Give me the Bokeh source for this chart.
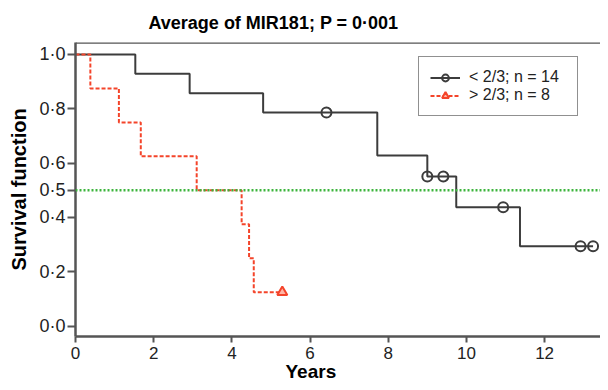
from bokeh.plotting import figure
from bokeh.models import (Range1d, FixedTicker, CustomJSTickFormatter, Span,
                          Legend, LegendItem, ColumnDataSource, Title)
from bokeh.embed import file_html
from bokeh.resources import INLINE

# ---------------- data ----------------
title_text = "Average of MIR181; P = 0·001"
x_label = "Years"
y_label = "Survival function"
x_ticks = [0, 2, 4, 6, 8, 10, 12]
y_ticks = [0.0, 0.2, 0.4, 0.5, 0.6, 0.8, 1.0]

low_label = "< 2/3; n = 14"
low_times = [0.0, 1.53, 2.92, 4.80, 7.72, 9.00, 9.74, 11.37, 13.24]
low_surv = [1.0, 0.929, 0.857, 0.786, 0.628, 0.551, 0.438, 0.294, 0.294]
low_cens_times = [6.42, 9.00, 9.41, 10.94, 12.92, 13.24]
low_cens_surv = [0.786, 0.551, 0.551, 0.438, 0.294, 0.294]

high_label = "> 2/3; n = 8"
high_times = [0.0, 0.38, 1.11, 1.67, 3.10, 4.25, 4.44, 4.56, 5.29]
high_surv = [1.0, 0.875, 0.75, 0.625, 0.5, 0.375, 0.25, 0.125, 0.125]
high_cens_times = [5.29]
high_cens_surv = [0.125]

median_level = 0.5

# ---------------- styles ----------------
FONT = "Liberation Sans"
AX_COL = "#555555"
BLACK = "#3c3c3c"
RED = "#f4442a"
GREEN = "#3cb43c"
Y_TOP = 1.044
Y_BOT = -0.038

p = figure(width=600, height=382, output_backend="svg", toolbar_location=None,
           x_range=Range1d(0, 13.43), y_range=Range1d(Y_BOT, Y_TOP),
           min_border_left=75, min_border_right=0, min_border_top=42,
           min_border_bottom=46)

p.title.text = title_text
p.title.text_font = FONT
p.title.text_font_size = "18px"
p.title.text_font_style = "bold"
p.title.text_color = "black"
p.title.align = "left"
p.title.offset = 73
p.title.standoff = 20

p.outline_line_color = None
p.grid.visible = False

# axes
for ax in (p.xaxis[0], p.yaxis[0]):
    ax.axis_line_color = AX_COL
    ax.axis_line_width = 2.5
    ax.major_tick_line_color = AX_COL
    ax.major_tick_line_width = 2
    ax.major_tick_in = 0
    ax.minor_tick_line_color = None
    ax.major_label_text_font = FONT
    ax.major_label_text_color = "#222222"
    ax.axis_label_text_font = FONT
    ax.axis_label_text_font_size = "20px"
    ax.axis_label_text_font_style = "bold"
    ax.axis_label_text_color = "black"

p.xaxis[0].ticker = FixedTicker(ticks=x_ticks)
p.xaxis[0].major_label_text_font_size = "17px"
p.xaxis[0].major_tick_out = 6
p.xaxis[0].major_label_standoff = 4

p.yaxis[0].ticker = FixedTicker(ticks=y_ticks)
p.yaxis[0].formatter = CustomJSTickFormatter(
    code="return tick.toFixed(1).replace('.', '\u00b7')")
p.yaxis[0].major_label_text_font_size = "18px"
p.yaxis[0].major_tick_out = 8
p.yaxis[0].major_label_standoff = 2
p.yaxis[0].axis_label = y_label
p.yaxis[0].axis_label_standoff = 6

# x-axis title, placed under the "6" tick as in the original
p.add_layout(Title(text=x_label, align="left", offset=210, standoff=-6,
                   text_font=FONT, text_font_size="19px",
                   text_font_style="bold", text_color="black"), "below")

# top border
p.add_layout(Span(location=Y_TOP, dimension="width", line_color=AX_COL,
                  line_width=2.5))

# median line
p.add_layout(Span(location=median_level, dimension="width", line_color=GREEN,
                  line_width=2.5, line_dash="2 2"))

low_src = ColumnDataSource(dict(t=low_times, s=low_surv))
high_src = ColumnDataSource(dict(t=high_times, s=high_surv))
low_c = ColumnDataSource(dict(t=low_cens_times, s=low_cens_surv))
high_c = ColumnDataSource(dict(t=high_cens_times, s=high_cens_surv))

r_low = p.step("t", "s", source=low_src, mode="after", line_color=BLACK,
               line_width=2)
c_low = p.scatter("t", "s", source=low_c, marker="circle", size=10,
                  fill_color=None, line_color=BLACK, line_width=2)
r_high = p.step("t", "s", source=high_src, mode="after", line_color=RED,
                line_width=2, line_dash="4 2")
c_high = p.scatter("t", "s", source=high_c, marker="triangle", size=10,
                   fill_color="#ffb4a4", line_color=RED, line_width=2)

legend = Legend(items=[LegendItem(label=low_label, renderers=[r_low, c_low]),
                       LegendItem(label=high_label, renderers=[r_high, c_high])],
                location=(343, 220), border_line_color="#222222",
                border_line_width=1.2, padding=11, spacing=0, margin=0,
                glyph_height=17, label_height=17,
                label_text_font=FONT, label_text_font_size="16px",
                label_text_color="#222222", label_width=97,
                glyph_width=30, label_standoff=9, background_fill_alpha=1)
p.add_layout(legend)

with open("out.html", "w", encoding="utf-8") as f:
    f.write(file_html(p, INLINE))
